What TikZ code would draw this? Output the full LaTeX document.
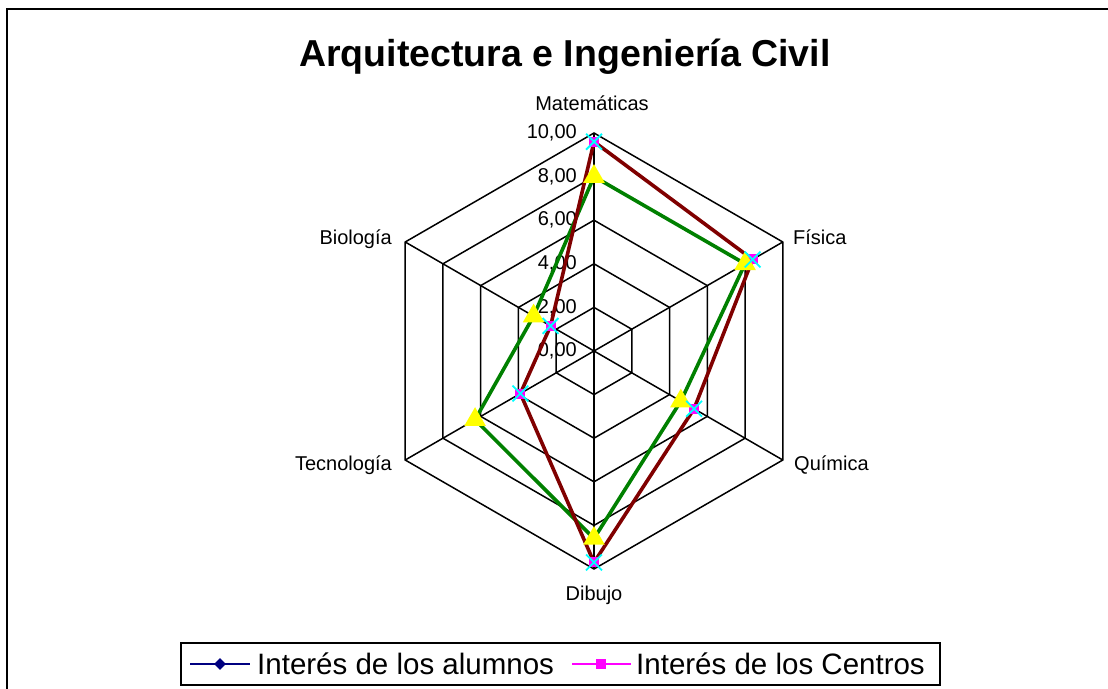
\documentclass[tikz,border=0pt]{standalone}
\usepackage{fontspec}
\setmainfont{Liberation Sans}
\usetikzlibrary{shapes.geometric,shapes.misc}
\definecolor{navy}{RGB}{0,0,128}
\definecolor{darkred}{RGB}{128,0,0}
\definecolor{xgreen}{RGB}{0,128,0}
\definecolor{xmag}{RGB}{255,0,255}
\definecolor{xcyan}{RGB}{0,255,255}
\definecolor{xyellow}{RGB}{255,255,0}
\tikzset{
  gridline/.style={black, line width=1.5pt, line join=miter},
  serie/.style={line width=3.6pt, line join=round},
  tri/.style={regular polygon, regular polygon sides=3, minimum size=25pt, inner sep=0pt, fill=xyellow},
  sq/.style={rectangle, minimum size=10pt, inner sep=0pt, fill=xmag},
  xm/.style={cross out, draw=xcyan, minimum size=14pt, inner sep=0pt, line width=1.8pt},
  dia/.style={diamond, minimum size=12pt, inner sep=0pt, fill=navy},
  lab/.style={font=\fontsize{20}{24}\selectfont, inner sep=0pt},
  leg/.style={font=\fontsize{29.5}{34}\selectfont, inner sep=0pt, anchor=base west},
}
\begin{document}
\begin{tikzpicture}[x=1pt,y=-1pt]
\useasboundingbox (0,0) rectangle (1108,688);
\fill[white] (0,0) rectangle (1108,688);
% chart frame (top and left edges visible)
\draw[black, line width=1.6pt] (7,700) -- (7,9) -- (1120,9);
% title
\node[font=\bfseries\fontsize{37.5}{42}\selectfont, inner sep=0pt, anchor=base] (title) at (565,66) {Arquitectura e Ingeniería Civil};

\begin{scope}[shift={(594,351)}, x=21.8pt, y=-21.8pt]
  \coordinate (O) at (0,0);
  % grid hexagons
  \foreach \k in {2,4,6,8,10}
    \draw[gridline] (-90:\k) -- (-30:\k) -- (30:\k) -- (90:\k) -- (150:\k) -- (210:\k) -- cycle;
  % spokes
  \foreach \a/\n in {-90/mat,-30/fis,30/qui,90/dib,150/tec,210/bio} {
    \coordinate (\n) at (\a:10);
    \draw[gridline] (O) -- (\n);
  }
  % scale labels
  \foreach \k/\t in {0/{0,00},2/{2,00},4/{4,00},6/{6,00},8/{8,00},10/{10,00}}
    \node[lab, anchor=east] (s\k) at (-0.78,-\k) {\t};

  % data points
  \coordinate (g1) at (-90:8.0);
  \coordinate (g2) at (-30:8.0);
  \coordinate (g3) at (30:4.6);
  \coordinate (g4) at (90:8.6);
  \coordinate (g5) at (150:6.3);
  \coordinate (g6) at (210:3.2);
  \coordinate (r1) at (-90:9.6);
  \coordinate (r2) at (-30:8.4);
  \coordinate (r3) at (30:5.3);
  \coordinate (r4) at (90:9.7);
  \coordinate (r5) at (150:3.9);
  \coordinate (r6) at (210:2.3);

  % series lines
  \draw[navy, line width=1.2pt] (g1) -- (g2) -- (g3) -- (g4) -- (g5) -- (g6) -- cycle;
  \draw[xmag, line width=1.2pt] (r1) -- (r2) -- (r3) -- (r4) -- (r5) -- (r6) -- cycle;
  \draw[serie, xgreen] (g1) -- (g2) -- (g3) -- (g4) -- (g5) -- (g6) -- cycle;
  \draw[serie, darkred] (r1) -- (r2) -- (r3) -- (r4) -- (r5) -- (r6) -- cycle;

  % markers
  \foreach \i in {1,...,6} {
    \node[dia] at (g\i) {};
    \node[sq] at (r\i) {};
  }
  \foreach \i in {1,...,6} {
    \node[tri] at (g\i) {};
    \node[xm] at (r\i) {};
  }
\end{scope}

% axis labels
\node[lab, anchor=base] (lmat) at (592,110) {Matemáticas};
\node[lab, anchor=base west] (lfis) at (793,244) {Física};
\node[lab, anchor=base west] (lqui) at (794,470) {Química};
\node[lab, anchor=base] (ldib) at (594,600) {Dibujo};
\node[lab, anchor=base east] (ltec) at (392,470) {Tecnología};
\node[lab, anchor=base east] (lbio) at (392,244) {Biología};

% legend
\draw[black, line width=1.3pt] (181,643) rectangle (940,685);
\coordinate (la1) at (190,664);
\coordinate (la2) at (250,664);
\draw[navy, line width=1.6pt] (la1) -- (la2);
\node[dia] (ld) at (220,664) {};
\node[leg] (lt1) at (257,674.5) {Interés de los alumnos};
\coordinate (lb1) at (572,664);
\coordinate (lb2) at (631,664);
\draw[xmag, line width=1.6pt] (lb1) -- (lb2);
\node[sq] (ls) at (601,664) {};
\node[leg] (lt2) at (636,674.5) {Interés de los Centros};
\end{tikzpicture}
\end{document}
